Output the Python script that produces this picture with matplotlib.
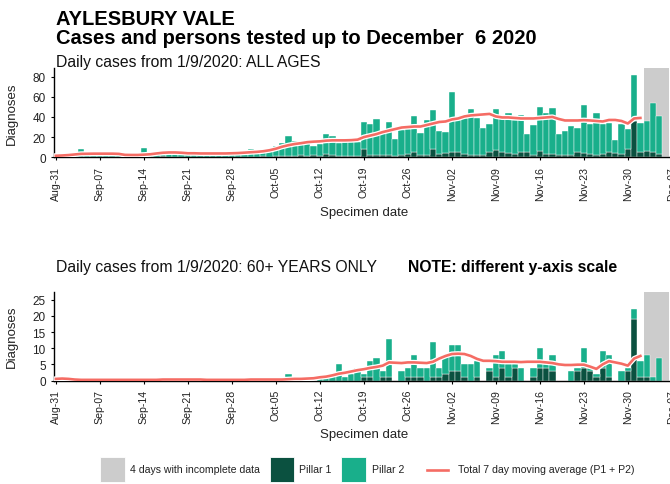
import numpy as np
import pandas as pd
import matplotlib
matplotlib.use('Agg')
import matplotlib.pyplot as plt
import matplotlib.patheffects as pe
from matplotlib.patches import Rectangle
from matplotlib.lines import Line2D

plt.rcParams['font.family'] = ['Liberation Sans', 'DejaVu Sans']

# ---- data ----
start_date = '2020-08-31'
n_days = 98
incomplete_days = 4

# all ages: pillar 1 and pillar 2 daily counts
all_p1 = [0, 0, 0, 0, 0, 0, 0, 0, 0, 0, 0, 0, 0, 0, 1, 0, 0, 1, 0, 0,
          0, 0, 0, 0, 0, 0, 0, 0, 0, 0, 0, 0, 0, 1, 0, 1, 1, 1, 1, 2,
          1, 2, 1, 3, 2, 1, 1, 1, 1, 8, 2, 2, 2, 2, 1, 2, 3, 5, 2, 2,
          8, 3, 4, 5, 5, 3, 2, 2, 2, 5, 7, 5, 4, 3, 5, 5, 2, 6, 3, 3,
          2, 2, 2, 5, 4, 3, 2, 3, 5, 4, 3, 8, 36, 5, 6, 5, 3, 0]
all_p2 = [1, 1, 2, 2, 8, 3, 3, 3, 4, 3, 2, 1, 2, 1, 8, 3, 4, 4, 6, 4,
          3, 3, 4, 5, 3, 4, 3, 4, 3, 4, 6, 8, 5, 7, 7, 10, 13, 20, 15, 13,
          16, 9, 12, 20, 19, 13, 14, 14, 14, 27, 31, 36, 24, 33, 17, 25, 25, 36, 22, 35,
          39, 23, 21, 60, 32, 36, 46, 37, 27, 28, 41, 34, 40, 34, 37, 18, 30, 44, 41, 46,
          21, 24, 29, 24, 48, 30, 42, 30, 29, 13, 30, 20, 46, 29, 30, 49, 38, 0]
all_avg = [1.5, 1.8, 2.2, 2.8, 3.4, 3.5, 3.6, 3.6, 3.6, 3.6, 3.4, 2.4, 2.3, 2.3, 2.6, 3.0,
           3.8, 4.5, 4.8, 4.8, 4.5, 4.0, 4.0, 3.8, 3.8, 3.8, 3.8, 3.8, 4.0, 4.2, 4.6, 5.0,
           5.4, 6.0, 7.0, 8.5, 10.5, 12.0, 13.2, 14.0, 15.0, 15.5, 15.8, 16.5, 16.8, 16.8,
           16.8, 17.0, 17.5, 20.0, 21.5, 23.0, 25.0, 26.5, 28.0, 29.5, 30.0, 30.5, 30.5,
           32.0, 33.5, 35.0, 35.5, 37.5, 38.5, 40.5, 41.5, 42.0, 42.5, 43.0, 40.5, 39.5,
           39.5, 39.0, 38.5, 38.5, 38.5, 39.0, 39.5, 40.0, 38.0, 36.5, 36.5, 36.5, 36.8,
           36.5, 36.0, 35.5, 37.0, 37.0, 36.0, 33.5, 38.5, 39.0]

# 60+ years only
old_p1 = [0] * 49 + [1, 1, 0, 1, 1, 0, 0, 1, 1, 1, 0, 1, 1, 2, 3, 3, 1, 0, 1, 0,
                     3, 1, 4, 1, 4, 0, 0, 1, 4, 4, 3, 0, 0, 0, 3, 4, 3, 1, 4, 1,
                     0, 0, 3, 19, 1, 1, 0, 0, 0]
old_p2 = [0] * 37 + [2, 0, 0, 0, 0, 1, 1, 2, 5, 1, 2, 4,
                     1, 5, 7, 2, 12, 0, 3, 3, 7, 3, 4, 11, 3, 6, 8, 8, 4, 5, 5, 0,
                     1, 7, 5, 4, 1, 4, 0, 3, 6, 1, 5, 0, 0, 3, 1, 6, 1, 1, 5, 7,
                     0, 3, 1, 3, 5, 7, 1, 7, 0]
old_avg = [0.5, 0.6, 0.5, 0.3, 0.2, 0.2, 0.2, 0.2, 0.2, 0.2, 0.2, 0.2, 0.2, 0.2, 0.2, 0.2,
           0.2, 0.3, 0.3, 0.3, 0.3, 0.3, 0.3, 0.3, 0.2, 0.2, 0.2, 0.2, 0.2, 0.2, 0.2, 0.3,
           0.3, 0.3, 0.3, 0.3, 0.3, 0.4, 0.5, 0.5, 0.6, 0.7, 1.0, 1.2, 1.6, 2.1, 2.4, 2.8,
           3.2, 3.5, 3.9, 4.2, 4.6, 5.6, 5.5, 5.4, 5.6, 5.6, 5.5, 5.4, 5.8, 6.8, 7.6, 8.2,
           8.3, 8.2, 7.6, 6.7, 6.1, 6.1, 6.0, 5.8, 5.8, 5.8, 5.7, 5.8, 5.8, 5.8, 5.6, 5.4,
           5.0, 4.8, 4.8, 4.9, 4.9, 4.3, 3.6, 5.0, 6.0, 5.6, 5.2, 4.6, 6.8, 7.6]

dates = pd.date_range(start_date, periods=n_days + 1)
tick_days = list(range(0, n_days + 1, 7))
tick_labels = [dates[i].strftime('%b-%d') for i in tick_days]

# colours
grey = '#CCCCCC'
dark_green = '#0B5140'
teal = '#19AF8B'
avg_red = '#F56C64'

W, H = 670, 485


def px_rect(left, top, right, bottom):
    return [left / W, 1 - bottom / H, (right - left) / W, (bottom - top) / H]


fig = plt.figure(figsize=(W / 100, H / 100), dpi=100)


def draw_panel(ax, p1, p2, avg, ymax, yticks):
    x = np.arange(n_days)
    ax.axvspan(n_days - incomplete_days - 0.5, n_days - 0.5, color=grey, lw=0, zorder=0)
    ax.bar(x, p1, width=1.0, color=dark_green, edgecolor='white', linewidth=0.3, zorder=2)
    ax.bar(x, p2, width=1.0, bottom=p1, color=teal, edgecolor='white', linewidth=0.3, zorder=2)
    ax.plot(np.arange(len(avg)), avg, color=avg_red, lw=1.9, zorder=3,
            path_effects=[pe.Stroke(linewidth=3.7, foreground='white'), pe.Normal()])
    ax.set_xlim(-0.3, 98.3)
    ax.set_ylim(0, ymax)
    ax.set_yticks(yticks)
    ax.set_xticks(tick_days)
    ax.set_xticklabels(tick_labels, rotation=90, fontsize=7.6, color='#222222')
    ax.tick_params(axis='y', labelsize=8.5, colors='#222222')
    ax.tick_params(length=2.5, width=0.8, color='black')
    for s in ['top', 'right']:
        ax.spines[s].set_visible(False)
    for s in ['left', 'bottom']:
        ax.spines[s].set_linewidth(1.0)
    ax.set_ylabel('Diagnoses', fontsize=9.5, color='#222222')
    ax.yaxis.set_label_coords(-0.058, 0.5)
    ax.set_xlabel('Specimen date', fontsize=9.5, color='#222222')
    ax.xaxis.set_label_coords(0.5, -0.54)


ax1 = fig.add_axes(px_rect(54, 69, 673.7, 158.3))
draw_panel(ax1, all_p1, all_p2, all_avg, 88.5, [0, 20, 40, 60, 80])

ax2 = fig.add_axes(px_rect(54, 293, 673.7, 381.5))
draw_panel(ax2, old_p1, old_p2, old_avg, 27.4, [0, 5, 10, 15, 20, 25])

# titles
fig.text(55.5 / W, 1 - 25 / H, 'AYLESBURY VALE', fontsize=14.5, fontweight='bold',
         va='baseline', ha='left')
fig.text(55.5 / W, 1 - 43.5 / H, 'Cases and persons tested up to December  6 2020',
         fontsize=14.5, fontweight='bold', va='baseline', ha='left')
fig.text(55.5 / W, 1 - 67.5 / H, 'Daily cases from 1/9/2020: ALL AGES', fontsize=11.3,
         va='baseline', ha='left', color='#111111')
fig.text(55.5 / W, 1 - 272 / H, 'Daily cases from 1/9/2020: 60+ YEARS ONLY', fontsize=11.3,
         va='baseline', ha='left', color='#111111')
fig.text(407.6 / W, 1 - 272 / H, 'NOTE: different y-axis scale', fontsize=11.3,
         fontweight='bold', va='baseline', ha='left')

# legend drawn along the bottom
leg_top, leg_bot = 458, 483
leg_mid = (leg_top + leg_bot) / 2
for (l, r, c) in [(100, 125, grey), (270, 294, dark_green), (341, 366, teal)]:
    fig.add_artist(Rectangle((l / W, 1 - leg_bot / H), (r - l) / W, (leg_bot - leg_top) / H,
                             transform=fig.transFigure, facecolor=c, edgecolor='white', lw=0.6))
fig.add_artist(Line2D([427 / W, 448 / W], [1 - leg_mid / H] * 2, transform=fig.transFigure,
                      color=avg_red, lw=1.9))
for xl, txt in [(130, '4 days with incomplete data'), (299, 'Pillar 1'), (372, 'Pillar 2'),
                (457.5, 'Total 7 day moving average (P1 + P2)')]:
    fig.text(xl / W, 1 - leg_mid / H, txt, fontsize=7.6, va='center', ha='left', color='#222222')

fig.savefig('out.png', dpi=100)
plt.close(fig)
